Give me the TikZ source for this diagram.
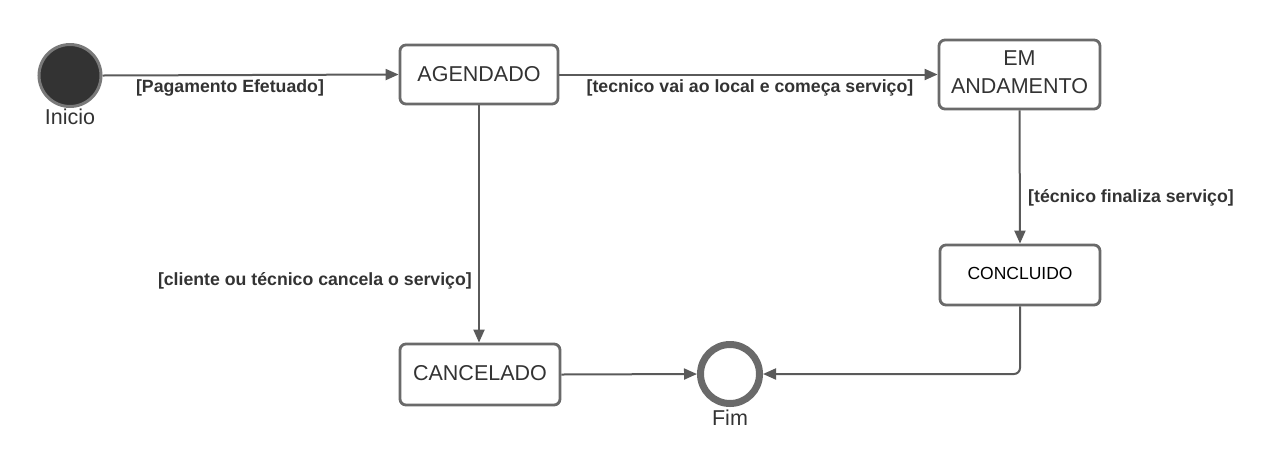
\documentclass[tikz,border=0pt]{standalone}
\usepackage{fontspec}
\setmainfont{Liberation Sans}
\usetikzlibrary{arrows.meta}
\definecolor{boxline}{HTML}{6A6A6A}
\definecolor{conn}{HTML}{5A5A5A}
\definecolor{txt}{HTML}{333333}
\tikzset{
  statebox/.style={draw=boxline, line width=2.8pt, rounded corners=6pt, fill=white,
    text=txt, font=\fontsize{21.5}{28}\selectfont, align=center, inner sep=0pt},
  conn/.style={draw=conn, line width=2pt, -{Triangle[length=13pt,width=11pt]}},
  guard/.style={font=\bfseries\fontsize{17.7}{21}\selectfont, text=txt, inner sep=0pt},
  caption/.style={font=\fontsize{21.5}{26}\selectfont, text=txt, inner sep=0pt}
}
\begin{document}
\begin{tikzpicture}[x=1pt,y=-1pt]
\useasboundingbox (0,0) rectangle (1274,467);
% start and end
\node[circle, draw=boxline!90, line width=3pt, fill=txt, minimum size=62pt, inner sep=0pt] (ini) at (70,75.5) {};
\node[caption] (initxt) at (70,117) {Inicio};
\node[circle, draw=boxline, line width=7pt, fill=white, minimum size=59pt, inner sep=0pt] (fim) at (730,374) {};
\node[caption] (fimtxt) at (730,418) {Fim};
% states
\node[statebox, minimum width=158pt, minimum height=59pt] (ag) at (479,74.5) {\raisebox{2pt}{AGENDADO}};
\node[statebox, minimum width=161pt, minimum height=69pt] (em) at (1019.5,74.5) {\raisebox{5pt}{EM}\\\raisebox{5pt}{ANDAMENTO}};
\node[statebox, minimum width=160pt, minimum height=60pt, font=\fontsize{17.5}{22}\selectfont, text=black] (co) at (1020,275) {\raisebox{3pt}{CONCLUIDO}};
\node[statebox, minimum width=160pt, minimum height=61pt] (ca) at (480,374.5) {\raisebox{3pt}{CANCELADO}};
% connectors
\draw[conn] (ini.east) -- (ag.west);
\node[guard] (g1) at (230,88) {[Pagamento Efetuado]};
\draw[conn] (ag.east) -- (em.west |- ag.east);
\node[guard] (g2) at (750,88) {[tecnico vai ao local e começa serviço]};
\draw[conn] (em.south) -- (co.north);
\node[guard, anchor=west] (g3) at (1028,198) {[técnico finaliza serviço]};
\draw[conn] (ag.south) -- (ag.south |- ca.north);
\node[guard, anchor=east] (g4) at (472,281) {[cliente ou técnico cancela o serviço]};
\draw[conn] (ca.east) -- (fim.west);
\coordinate (bend) at (co.south |- fim.east);
\draw[conn, rounded corners=6pt] (co.south) -- (bend) -- (fim.east);
\end{tikzpicture}
\end{document}
